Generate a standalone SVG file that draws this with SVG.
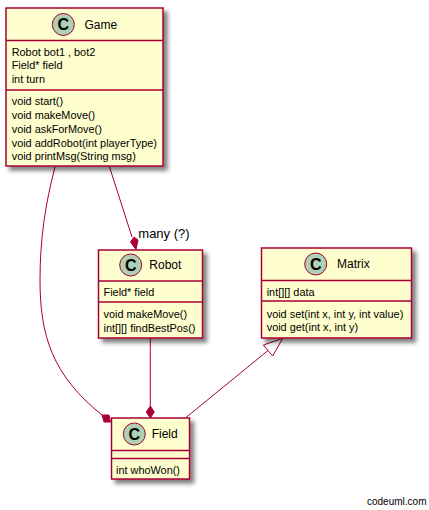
<svg xmlns="http://www.w3.org/2000/svg" width="429" height="510" viewBox="0 0 429 510">
<defs>
<filter id="sh" x="-10%" y="-10%" width="125%" height="125%"><feDropShadow dx="4" dy="4" stdDeviation="2" flood-color="#000" flood-opacity="0.5"/></filter>
</defs>
<style>
.box{fill:#FEFECE;stroke:#A80036;stroke-width:1.5}
.div{stroke:#A80036;stroke-width:1.5;fill:none}
.spot{fill:#ADD1B2;stroke:#A80036;stroke-width:1}
.c{font:bold 16px "Liberation Sans",sans-serif;fill:#000;text-anchor:middle}
.t{font:12px "Liberation Sans",sans-serif;fill:#000}
.m{font:10.9px "Liberation Sans",sans-serif;fill:#000}
.link{fill:none;stroke:#A80036;stroke-width:1}
.dia{fill:#A80036;stroke:#A80036;stroke-width:1}
.tri{fill:none;stroke:#A80036;stroke-width:1}
</style>
<rect width="429" height="510" fill="#fff"/>
<g id="connectors">
<path class="link" d="M55,167 C45,205 40,240 40,280 C40,335 52,375 102,415"/>
<path class="dia" d="M102,415 L109,415 L110.500,422 L104,422 Z"/>
<path class="link" d="M109.500,167 L132,237"/>
<path class="dia" d="M134,237 L138,240 L136,249.500 L130.500,242 Z"/>
<path class="link" d="M150.300,338 L150.300,406"/>
<path class="dia" d="M150.300,418 L146.300,412 L150.300,406 L154.300,412 Z"/>
<path class="link" d="M186,417.500 L268,350.500"/>
<path class="tri" d="M282.700,338.300 L263.300,345 L272.700,356 Z"/>
<text x="138.300" y="238" style="font:13px 'Liberation Sans',sans-serif">many (?)</text>
</g>
<g id="Game">
<rect class="box" x="6" y="8" width="157" height="158" filter="url(#sh)"/>
<path class="div" d="M6,40.500H163M6,90H163"/>
<circle class="spot" cx="63.300" cy="24.500" r="11"/>
<text class="c" x="63.300" y="30">C</text>
<text class="t" x="84.500" y="29">Game</text>
<text class="m" x="11.700" y="56">Robot bot1 , bot2</text>
<text class="m" x="11.700" y="69">Field* field</text>
<text class="m" x="11.700" y="83">int turn</text>
<text class="m" x="11.700" y="105">void start()</text>
<text class="m" x="11.700" y="119">void makeMove()</text>
<text class="m" x="11.700" y="133">void askForMove()</text>
<text class="m" x="11.700" y="147">void addRobot(int playerType)</text>
<text class="m" x="11.700" y="160">void printMsg(String msg)</text>
</g>
<g id="Robot">
<rect class="box" x="98.500" y="250" width="104" height="88" filter="url(#sh)"/>
<path class="div" d="M98.500,281H202.500M98.500,302H202.500"/>
<circle class="spot" cx="130.700" cy="265" r="11"/>
<text class="c" x="130.700" y="270.700">C</text>
<text class="t" x="149.300" y="269">Robot</text>
<text class="m" x="103.500" y="296">Field* field</text>
<text class="m" x="103.500" y="318">void makeMove()</text>
<text class="m" x="103.500" y="332">int[][] findBestPos()</text>
</g>
<g id="Matrix">
<rect class="box" x="261.500" y="248" width="150" height="90" filter="url(#sh)"/>
<path class="div" d="M261.500,280.500H411.500M261.500,301H411.500"/>
<circle class="spot" cx="315.700" cy="264" r="11"/>
<text class="c" x="315.700" y="269.700">C</text>
<text class="t" x="337" y="268">Matrix</text>
<text class="m" x="266.700" y="296">int[][] data</text>
<text class="m" x="266.700" y="318">void set(int x, int y, int value)</text>
<text class="m" x="266.700" y="331">void get(int x, int y)</text>
</g>
<g id="Field">
<rect class="box" x="111.500" y="418" width="78" height="61" filter="url(#sh)"/>
<path class="div" d="M111.500,450.500H189.500M111.500,458.500H189.500"/>
<circle class="spot" cx="134.300" cy="434" r="11"/>
<text class="c" x="134.300" y="439.700">C</text>
<text class="t" x="151.700" y="438">Field</text>
<text class="m" x="116" y="474">int whoWon()</text>
</g>
<text id="credit" x="367" y="505" style="font:10px 'Liberation Sans',sans-serif">codeuml.com</text>
</svg>
